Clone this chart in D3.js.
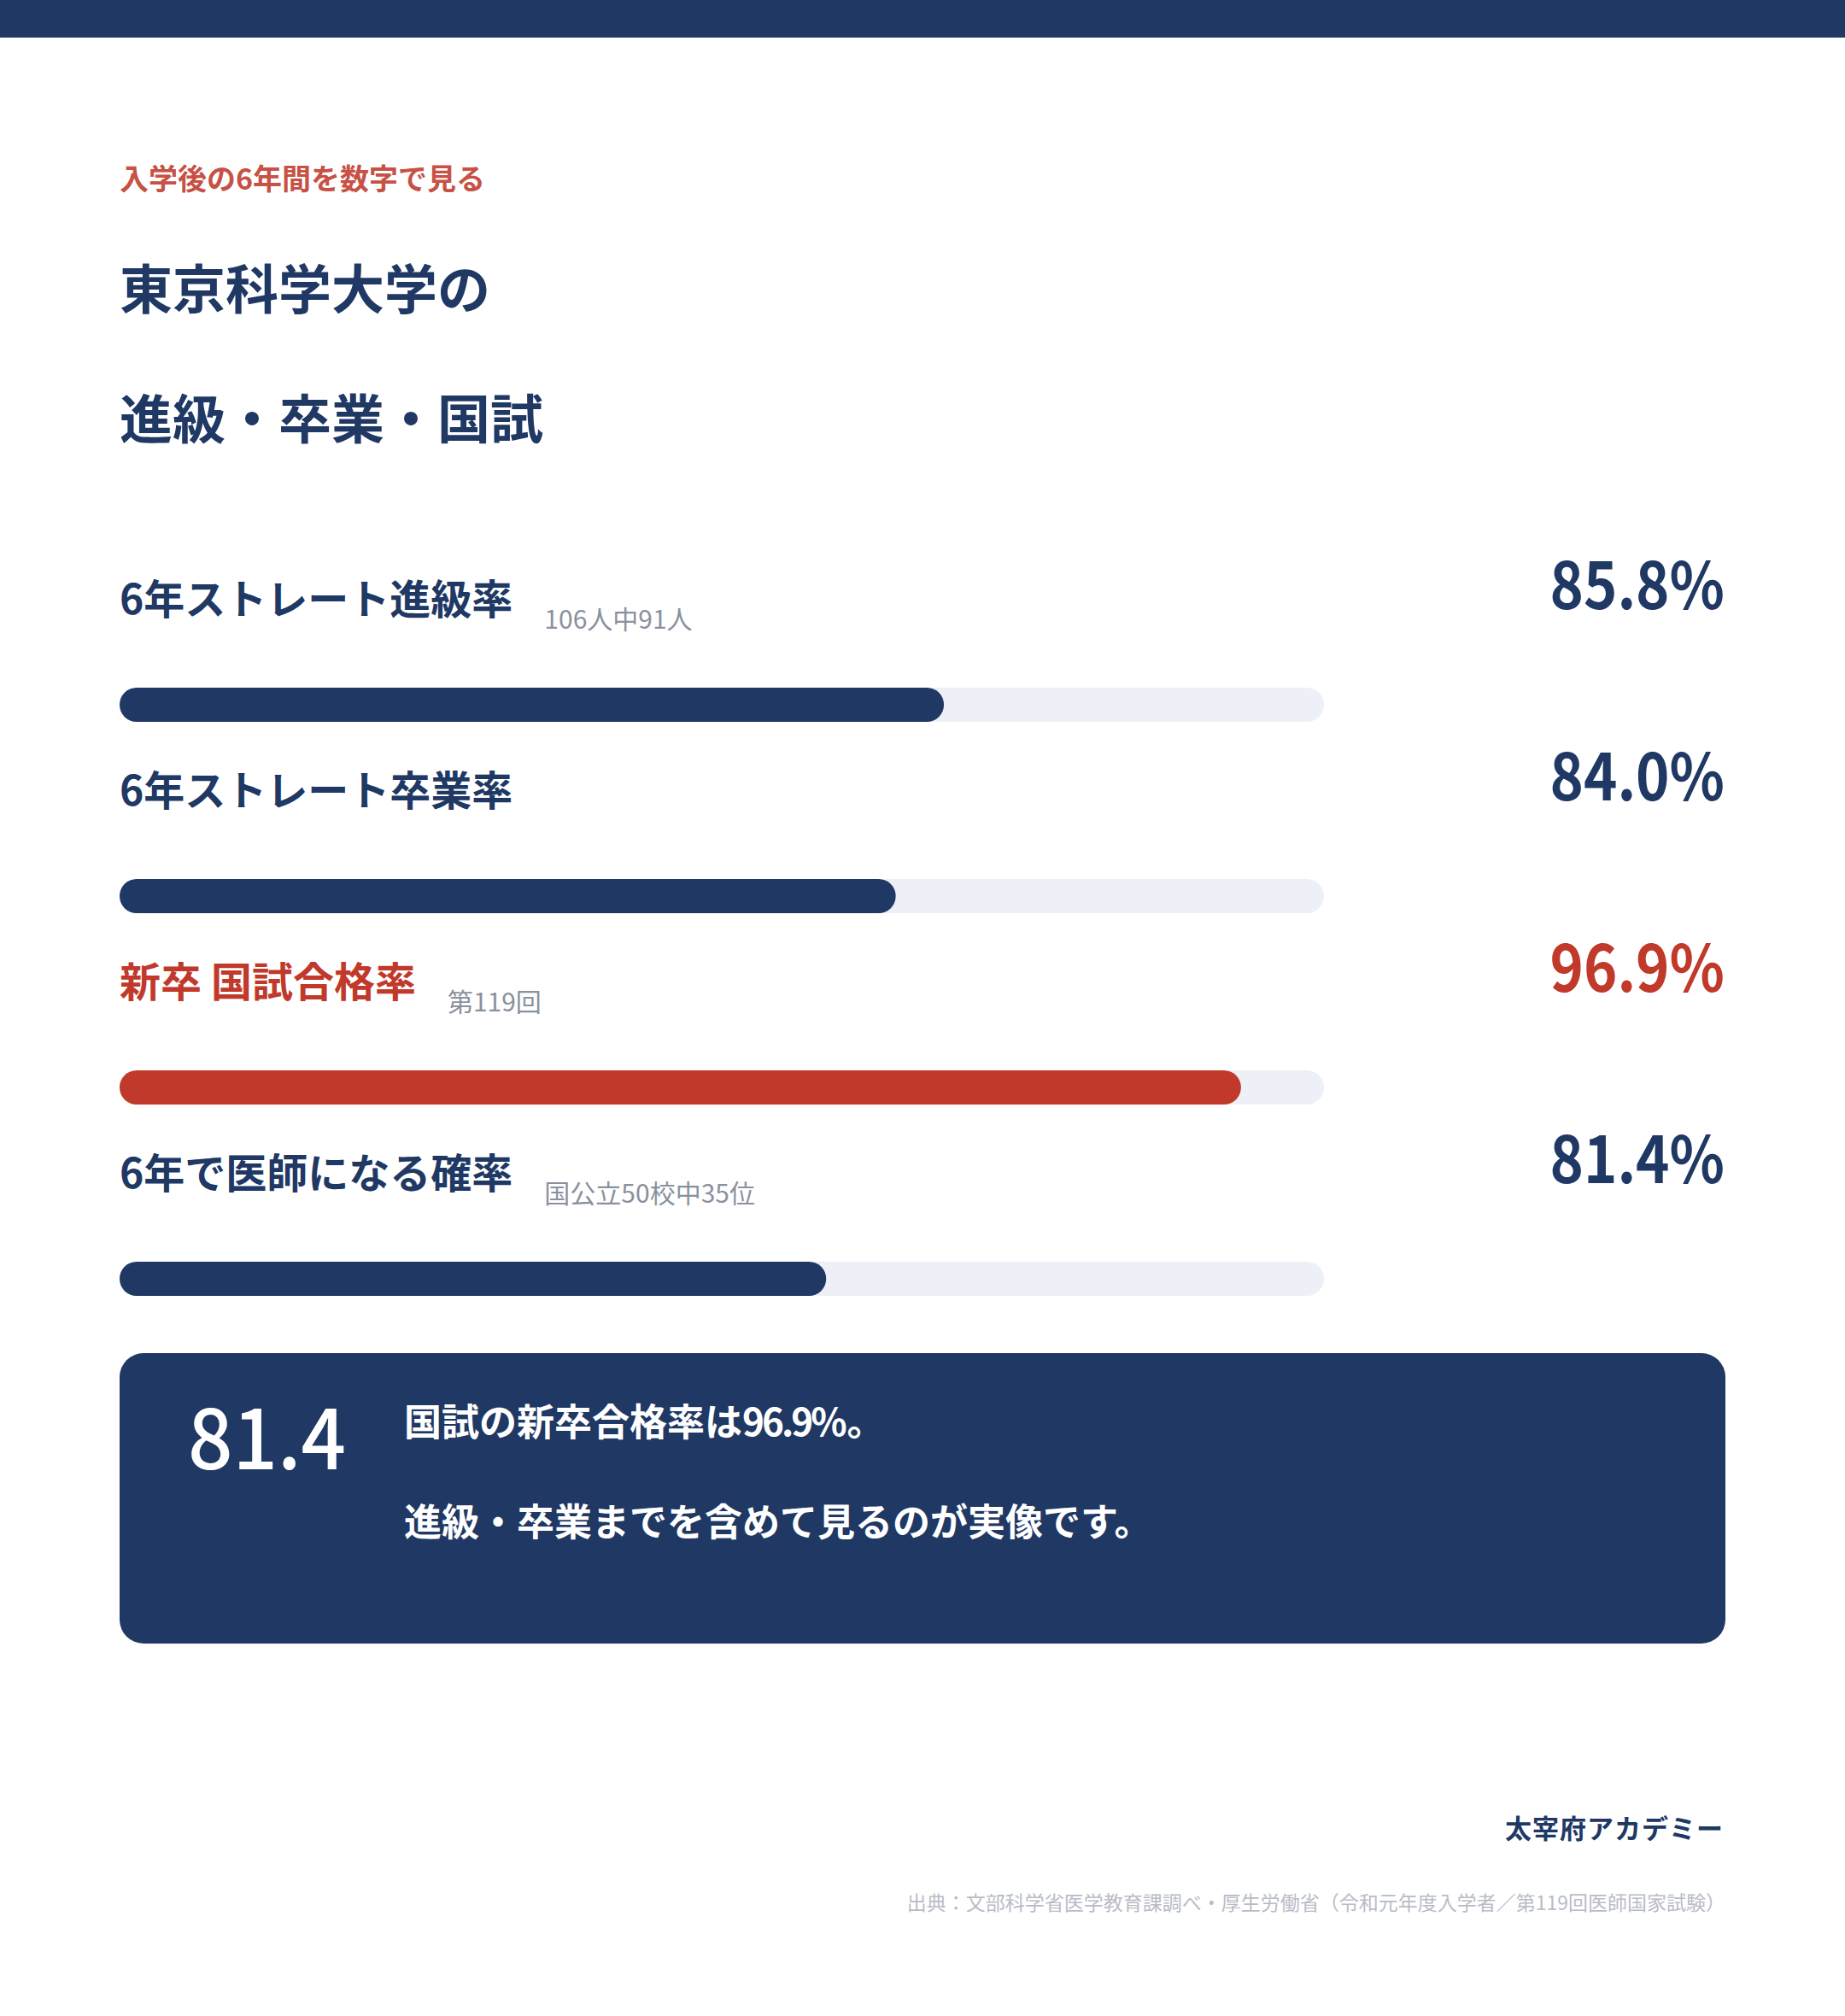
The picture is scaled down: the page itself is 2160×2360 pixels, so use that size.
<!DOCTYPE html>
<html lang="ja">
<head>
<meta charset="utf-8">
<script src="https://cdn.jsdelivr.net/npm/d3@7"></script>
<style>
  html, body { margin: 0; padding: 0; background: #ffffff; }
  svg { display: block; }
</style>
</head>
<body>
<div id="chart"></div>
<script>
"use strict"

// data
var eyebrow = "入学後の6年間を数字で見る";
var titleLines = ["東京科学大学の", "進級・卒業・国試"];
var rowLabels = ["6年ストレート進級率", "6年ストレート卒業率", "新卒 国試合格率", "6年で医師になる確率"];
var rowNotes = ["106人中91人", "", "第119回", "国公立50校中35位"];
var rowValues = [85.8, 84.0, 96.9, 81.4];
var rowHighlight = [false, false, true, false];
var barDomain = [55, 100];
var calloutNumber = "81.4";
var calloutLines = ["国試の新卒合格率は96.9%。", "進級・卒業までを含めて見るのが実像です。"];
var brand = "太宰府アカデミー";
var sourceNote = "出典：文部科学省医学教育課調べ・厚生労働省（令和元年度入学者／第119回医師国家試験）";

var W = 2160, H = 2360,
  left = 140, right = 2020,
  navy = "#203864",
  red = "#c0392b",
  track = "#edf0f7",
  font = "'Noto Sans CJK JP', 'Noto Sans', sans-serif";

// the numerals in the original are set a little tighter than the default font
function condense(sel, k){
  sel.each(function(){
    var w = this.getComputedTextLength();
    d3.select(this)
      .attr("textLength", w * k)
      .attr("lengthAdjust", "spacingAndGlyphs");
  });
}

var svg = d3.select("#chart").append("svg")
  .attr("width", W)
  .attr("height", H)
  .style("font-family", font);

svg.append("rect")
  .attr("width", W).attr("height", H)
  .attr("fill", "#ffffff");

// top band
svg.append("rect")
  .attr("x", 0).attr("y", 0)
  .attr("width", W).attr("height", 44)
  .attr("fill", navy);

svg.append("text")
  .attr("x", left).attr("y", 222)
  .attr("fill", red)
  .attr("fill-opacity", 0.9)
  .style("font-size", "34px")
  .style("font-weight", 700)
  .text(eyebrow);

svg.selectAll("text.title")
  .data(titleLines)
  .enter().append("text")
  .attr("class", "title")
  .attr("x", left)
  .attr("y", function(d, i){ return 362 + i * 152; })
  .attr("fill", navy)
  .style("font-size", "62px")
  .style("font-weight", 700)
  .text(function(d){ return d; });

// rows
var trackW = (right - left) * 0.75;
var x = d3.scaleLinear().domain(barDomain).range([0, trackW]);
var rowY = d3.scaleLinear().domain([0, 1]).range([719, 943]);
var barH = 40;

var rows = svg.selectAll("g.row")
  .data(rowValues)
  .enter().append("g")
  .attr("class", "row")
  .attr("transform", function(d, i){ return "translate(0," + rowY(i) + ")"; });

rows.append("text")
  .attr("class", "label")
  .attr("x", left)
  .attr("y", 0)
  .attr("fill", function(d, i){ return rowHighlight[i] ? red : navy; })
  .style("font-size", "48px")
  .style("font-weight", 700)
  .text(function(d, i){ return rowLabels[i]; });

rows.each(function(d, i){
  if (!rowNotes[i]) return;
  var g = d3.select(this);
  var w = g.select("text.label").node().getComputedTextLength();
  g.append("text")
    .attr("x", left + w + 37)
    .attr("y", 17)
    .attr("fill", "#8a919e")
    .style("font-size", "30px")
    .text(rowNotes[i]);
});

rows.append("text")
  .attr("class", "value")
  .attr("x", right - 1)
  .attr("y", -6)
  .attr("text-anchor", "end")
  .attr("fill", function(d, i){ return rowHighlight[i] ? red : navy; })
  .style("font-size", "76px")
  .style("font-weight", 700)
  .text(function(d){ return d.toFixed(1) + "%"; })
  .call(condense, 0.88);

rows.append("rect")
  .attr("x", left)
  .attr("y", 86)
  .attr("width", trackW)
  .attr("height", barH)
  .attr("rx", barH / 2)
  .attr("fill", track);

rows.append("rect")
  .attr("x", left)
  .attr("y", 86)
  .attr("width", function(d){ return x(d); })
  .attr("height", barH)
  .attr("rx", barH / 2)
  .attr("fill", function(d, i){ return rowHighlight[i] ? red : navy; });

// callout box
svg.append("rect")
  .attr("x", left).attr("y", 1584)
  .attr("width", right - left).attr("height", 340)
  .attr("rx", 28)
  .attr("fill", navy);

svg.append("text")
  .attr("x", 220).attr("y", 1720)
  .attr("fill", "#ffffff")
  .style("font-size", "96px")
  .style("font-weight", 500)
  .text(calloutNumber)
  .call(condense, 0.96);

svg.selectAll("text.callout")
  .data(calloutLines)
  .enter().append("text")
  .attr("class", "callout")
  .attr("x", 473)
  .attr("y", function(d, i){ return 1681 + i * 117; })
  .attr("fill", "#ffffff")
  .style("font-size", "44px")
  .style("font-weight", 700)
  .each(function(d){
    // split so runs of numerals can be tightened like the values above
    var t = d3.select(this);
    d.split(/([0-9.%]+)/).forEach(function(part){
      if (!part) return;
      if (/^[0-9.%]+$/.test(part)) {
        t.append("tspan").style("letter-spacing", "-3px").text(part.slice(0, -1));
        t.append("tspan").text(part.slice(-1));
      } else {
        t.append("tspan").text(part);
      }
    });
  });

// footer
svg.append("text")
  .attr("x", right - 2).attr("y", 2152)
  .attr("text-anchor", "end")
  .attr("fill", navy)
  .style("font-size", "31px")
  .style("font-weight", 700)
  .style("letter-spacing", "1px")
  .text(brand);

svg.append("text")
  .attr("x", right).attr("y", 2236)
  .attr("text-anchor", "end")
  .attr("fill", "#b8bcc6")
  .style("font-size", "23px")
  .text(sourceNote);
</script>
</body>
</html>
